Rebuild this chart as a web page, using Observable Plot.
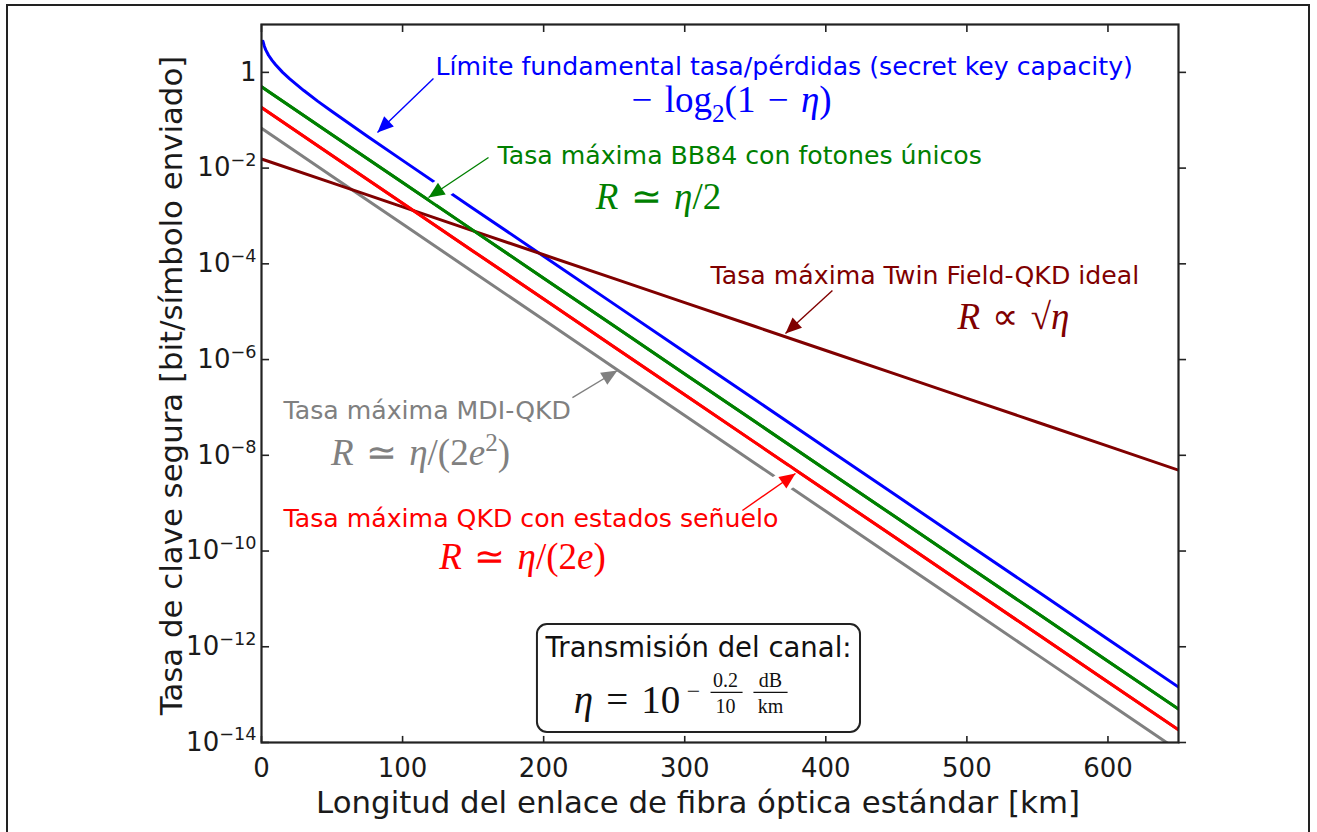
<!DOCTYPE html>
<html><head><meta charset="utf-8">
<script src="https://cdn.jsdelivr.net/npm/d3@7"></script>
<script src="https://cdn.jsdelivr.net/npm/@observablehq/plot@0.6"></script>
<style>
html,body{margin:0;padding:0;background:#fff;overflow:hidden;}
#wrap{position:relative;width:1317px;height:832px;}
#chart{position:absolute;left:0;top:0;}
#border{position:absolute;left:6px;top:4px;width:1304px;height:900px;border:2.5px solid #222;box-sizing:border-box;pointer-events:none;}
</style></head><body><div id="wrap"><div id="chart"></div><div id="border"></div></div>
<script>
// ---- data ----
const distanceKm = [0, 50, 100, 150, 200, 250, 300, 350, 400, 450, 500, 550, 600, 650];
const bb84Rate   = [5e-1, 5e-2, 5e-3, 5e-4, 5e-5, 5e-6, 5e-7, 5e-8, 5e-9, 5e-10, 5e-11, 5e-12, 5e-13, 5e-14];
const decoyRate  = [1.84e-1, 1.84e-2, 1.84e-3, 1.84e-4, 1.84e-5, 1.84e-6, 1.84e-7, 1.84e-8, 1.84e-9, 1.84e-10, 1.84e-11, 1.84e-12, 1.84e-13, 1.84e-14];
const mdiRate    = [6.77e-2, 6.77e-3, 6.77e-4, 6.77e-5, 6.77e-6, 6.77e-7, 6.77e-8, 6.77e-9, 6.77e-10, 6.77e-11, 6.77e-12, 6.77e-13, 6.77e-14, 6.77e-15];
const twinFieldRate = [1.55e-2, 4.9e-3, 1.55e-3, 4.9e-4, 1.55e-4, 4.9e-5, 1.55e-5, 4.9e-6, 1.55e-6, 4.9e-7, 1.55e-7, 4.9e-8, 1.55e-8, 4.9e-9];
const capacityKm   = [1, 2, 3, 5, 7.5, 10, 15, 20, 30, 40, 50, 75, 100, 150, 200, 250, 300, 350, 400, 450, 500, 550, 600, 650];
const capacityRate = [4.47, 3.51, 2.95, 2.28, 1.78, 1.44, 1.00, 0.732, 0.417, 0.248, 0.152, 0.0463, 0.0145, 1.44e-3, 1.44e-4, 1.44e-5, 1.44e-6, 1.44e-7, 1.44e-8, 1.44e-9, 1.44e-10, 1.44e-11, 1.44e-12, 1.44e-13];

const xTickValues = [0, 100, 200, 300, 400, 500, 600];
const xTickLabels = ["0", "100", "200", "300", "400", "500", "600"];
const yTickValues = [1, 1e-2, 1e-4, 1e-6, 1e-8, 1e-10, 1e-12, 1e-14];
const yTickLabels = ["1", "10^{−2}", "10^{−4}", "10^{−6}", "10^{−8}", "10^{−10}", "10^{−12}", "10^{−14}"];

const xLabel = "Longitud del enlace de fibra óptica estándar [km]";
const yLabel = "Tasa de clave segura [bit/símbolo enviado]";

// series colours
const colBlue = "#0000ff", colGreen = "#008000", colRed = "#ff0000", colGray = "#808080", colDark = "#800000";

// annotation labels (anchor in data units: km, rate)
const labelTexts = ["Límite fundamental tasa/pérdidas (secret key capacity)", "Tasa máxima BB84 con fotones únicos", "Tasa máxima Twin Field-QKD ideal", "Tasa máxima MDI-QKD", "Tasa máxima QKD con estados señuelo"];
const labelKm    = [123.3, 167.3, 318.3, 15.6, 15.6];
const labelRate  = [1.33, 0.0183, 5.7e-5, 8.63e-8, 4.79e-10];
const labelColor = [colBlue, colGreen, colDark, colGray, colRed];

const formulaTexts = ["−\u2004log_{2}(1\u2004−\u2004*η*)", "*R*\u2004≃\u2004*η*/2", "*R*\u2004∝\u2004√*η*", "*R*\u2004≃\u2004*η*/(2*e*^{2})", "*R*\u2004≃\u2004*η*/(2*e*)"];
const formulaKm    = [333.2, 281.4, 533.0, 112.7, 185.0];
const formulaRate  = [0.258, 0.00243, 7.57e-6, 1.09e-8, 7.33e-11];

const arrowTailKm   = [121.9, 160.9, 404.7, 220.4, 340.9];
const arrowTailRate = [0.745, 0.01663, 2.77e-5, 1.61e-7, 7.03e-10];
const arrowTipKm    = [82.2, 118.4, 371.4, 252.3, 378.5];
const arrowTipRate  = [0.0555, 0.00243, 3.51e-6, 5.91e-7, 4.17e-9];

const boxTitle = "Transmisión del canal:";

// ---- layout ----
const W = 1317, H = 832, mL = 261, mR = 139, mT = 24, mB = 90;
const xDomain = [0, 650], yDomain = [1e-14, 10];
const xs = d3.scaleLinear(xDomain, [mL, W - mR]);
const ys = d3.scaleLog(yDomain, [H - mB, mT]);

const series = (name, xsArr, ysArr) => xsArr.map((x, i) => ({name, x, y: ysArr[i]}));
const sCap = series("cap", capacityKm, capacityRate);
const sBB84 = series("bb84", distanceKm, bb84Rate);
const sDecoy = series("decoy", distanceKm, decoyRate);
const sMDI = series("mdi", distanceKm, mdiRate);
const sTF = series("tf", distanceKm, twinFieldRate);

function headSymbol(i) {
  const dx = xs(arrowTipKm[i]) - xs(arrowTailKm[i]);
  const dy = ys(arrowTipRate[i]) - ys(arrowTailRate[i]);
  const len = Math.hypot(dx, dy), ux = dx / len, uy = dy / len;
  const L = 16, hw = 7;
  return {draw(ctx) {
    ctx.moveTo(0, 0);
    ctx.lineTo(-ux * L - uy * hw, -uy * L + ux * hw);
    ctx.lineTo(-ux * L + uy * hw, -uy * L - ux * hw);
    ctx.closePath();
  }};
}

const lineW = 3;
const marks = [];
marks.push(Plot.line(sMDI, {x: "x", y: "y", stroke: colGray, strokeWidth: lineW, clip: true}));
marks.push(Plot.line(sDecoy, {x: "x", y: "y", stroke: colRed, strokeWidth: lineW, clip: true}));
marks.push(Plot.line(sBB84, {x: "x", y: "y", stroke: colGreen, strokeWidth: lineW, clip: true}));
marks.push(Plot.line(sCap, {x: "x", y: "y", stroke: colBlue, strokeWidth: lineW, clip: true}));
marks.push(Plot.line(sTF, {x: "x", y: "y", stroke: colDark, strokeWidth: lineW, clip: true}));
// white halos where arrows cross other curves
[1, 4].forEach(i => marks.push(Plot.link([i], {x1: arrowTailKm[i], y1: arrowTailRate[i], x2: arrowTipKm[i], y2: arrowTipRate[i], stroke: "white", strokeWidth: 20})));
marks.push(Plot.line(sBB84, {x: "x", y: "y", stroke: colGreen, strokeWidth: lineW, clip: true}));
marks.push(Plot.line(sDecoy, {x: "x", y: "y", stroke: colRed, strokeWidth: lineW, clip: true}));
// arrows
labelColor.forEach((c, i) => {
  marks.push(Plot.link([i], {x1: arrowTailKm[i], y1: arrowTailRate[i], x2: arrowTipKm[i], y2: arrowTipRate[i], stroke: c, strokeWidth: 1.4}));
  marks.push(Plot.dot([i], {x: arrowTipKm[i], y: arrowTipRate[i], symbol: headSymbol(i), r: 5, fill: c, stroke: "none"}));
});
// labels
labelTexts.forEach((t, i) => marks.push(Plot.text([t], {x: labelKm[i], y: labelRate[i], text: d => d, textAnchor: "start", fill: labelColor[i], fontSize: 25.2, fontFamily: "DejaVu Sans"})));
formulaTexts.forEach((t, i) => marks.push(Plot.text([t], {x: formulaKm[i], y: formulaRate[i], text: d => d, textAnchor: "middle", fill: labelColor[i], fontSize: 37, fontFamily: "Liberation Serif"})));
// transmission box
marks.push(Plot.rect([0], {x1: 195.6, x2: 424.6, y1: 1.62e-14, y2: 2.92e-12, rx: 10, fill: "white", stroke: "#222", strokeWidth: 2}));
marks.push(Plot.text([boxTitle], {x: 309.8, y: 9.2e-13, text: d => d, fontSize: 27.5, fontFamily: "DejaVu Sans", fill: "#111"}));
marks.push(Plot.text(["*η*\u2004=\u200410"], {x: 259.1, y: 7.55e-14, text: d => d, fontSize: 39, fontFamily: "Liberation Serif", fill: "#111"}));
marks.push(Plot.text(["−"], {x: 306.2, y: 1.2e-13, text: d => d, fontSize: 24, fontFamily: "Liberation Serif", fill: "#111"}));
marks.push(Plot.text(["0.2", "dB"], {x: (d, i) => [328.9, 360.8][i], y: 1.97e-13, text: d => d, fontSize: 20, fontFamily: "Liberation Serif", fill: "#111"}));
marks.push(Plot.text(["10", "km"], {x: (d, i) => [328.9, 360.8][i], y: 5.65e-14, text: d => d, fontSize: 20, fontFamily: "Liberation Serif", fill: "#111"}));
marks.push(Plot.link([0, 1], {x1: (d, i) => [318.3, 348.7][i], x2: (d, i) => [341.0, 372.9][i], y1: 1.11e-13, y2: 1.11e-13, stroke: "#111", strokeWidth: 1.3}));
// ticks (inward left/top/bottom, outward right)
marks.push(Plot.ruleY(yTickValues, {x1: 0, x2: 5.7, stroke: "#222", strokeWidth: 1.6}));
marks.push(Plot.ruleY(yTickValues, {x1: 650, x2: 655.7, stroke: "#222", strokeWidth: 1.6}));
marks.push(Plot.ruleX(xTickValues, {y1: 10, y2: 6.8, stroke: "#222", strokeWidth: 1.6}));
marks.push(Plot.ruleX(xTickValues, {y1: 1e-14, y2: 1.34e-14, stroke: "#222", strokeWidth: 1.6}));
marks.push(Plot.frame({stroke: "#222", strokeWidth: 2.2}));
// axis titles
marks.push(Plot.text([xLabel], {frameAnchor: "bottom", textAnchor: "middle", dx: -22, dy: 70, text: d => d, fontSize: 30.8, fontFamily: "DejaVu Sans", fill: "#1a1a1a"}));
marks.push(Plot.text([yLabel], {frameAnchor: "left", textAnchor: "middle", dx: -89, dy: 2, text: d => d, rotate: -90, fontSize: 30.8, fontFamily: "DejaVu Sans", fill: "#1a1a1a"}));

const svg = Plot.plot({
  width: W, height: H,
  marginLeft: mL, marginRight: mR, marginTop: mT, marginBottom: mB,
  style: {fontFamily: "DejaVu Sans", fontSize: "26px", color: "#1a1a1a", background: "white"},
  x: {domain: xDomain, ticks: xTickValues, tickFormat: d => xTickLabels[xTickValues.indexOf(d)], tickSize: 0, tickPadding: 16, label: null},
  y: {type: "log", domain: yDomain, ticks: yTickValues, tickFormat: d => yTickLabels[yTickValues.findIndex(v => Math.abs(Math.log10(v) - Math.log10(d)) < 1e-6)], tickSize: 0, tickPadding: 5, label: null},
  marks
});

// rich text: *italic*, ^{sup}, _{sub}
function richify(el) {
  const s = el.textContent;
  if (!/[*^_]/.test(s)) return;
  const NS = "http://www.w3.org/2000/svg";
  el.textContent = "";
  let italic = false, mode = 0, shift = 0, buf = "";
  const flush = () => {
    if (!buf) return;
    const t = document.createElementNS(NS, "tspan");
    t.textContent = buf;
    t.setAttribute("font-style", italic ? "italic" : "normal");
    const target = mode === 1 ? 0.4 : mode === -1 ? -0.25 : 0;
    const scale = mode === 0 ? 1 : 0.68;
    if (scale !== 1) t.setAttribute("font-size", (scale * 100) + "%");
    const d = shift - target;
    if (Math.abs(d) > 1e-9) t.setAttribute("dy", (d / scale).toFixed(3) + "em");
    shift = target;
    el.appendChild(t);
    buf = "";
  };
  for (let i = 0; i < s.length; i++) {
    const c = s[i];
    if (c === "*") { flush(); italic = !italic; }
    else if ((c === "^" || c === "_") && s[i + 1] === "{") { flush(); mode = c === "^" ? 1 : -1; i++; }
    else if (c === "}" && mode !== 0) { flush(); mode = 0; }
    else buf += c;
  }
  flush();
}
svg.querySelectorAll("text").forEach(richify);
document.getElementById("chart").appendChild(svg);
</script></body></html>
